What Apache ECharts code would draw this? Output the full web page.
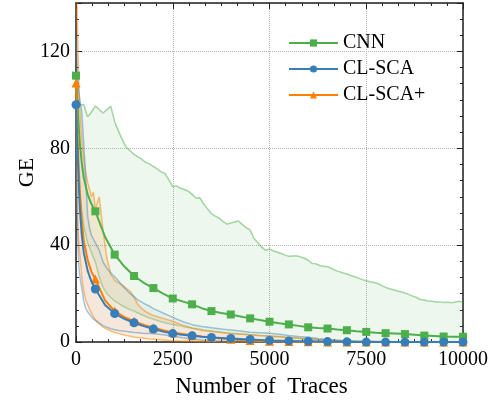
<!DOCTYPE html>
<html>
<head>
<meta charset="utf-8">
<script src="https://cdn.jsdelivr.net/npm/echarts@6/dist/echarts.min.js"></script>
<style>
  html, body { margin: 0; padding: 0; background: #fff; }
  #chart { width: 500px; height: 403px; }
</style>
</head>
<body>
<div id="chart"></div>
<script>
// mean curves, markers every 500 traces
const meanX = [0, 25, 50, 75, 100, 150, 200, 300, 400, 500,
  750, 1000, 1250, 1500, 1750, 2000, 2250, 2500, 2750, 3000,
  3250, 3500, 3750, 4000, 4250, 4500, 4750, 5000, 5250, 5500,
  5750, 6000, 6250, 6500, 6750, 7000, 7250, 7500, 7750, 8000,
  8250, 8500, 8750, 9000, 9250, 9500, 9750, 10000]
const cnnMean = [110, 103, 95, 88, 82, 74, 68, 61, 57, 54,
  43.5, 36.1, 31.2, 27.3, 24.5, 22.3, 20.0, 18.0, 16.8, 15.6,
  14.0, 12.8, 12.0, 11.4, 10.6, 9.8, 9.1, 8.4, 7.8, 7.3,
  6.7, 6.1, 5.8, 5.6, 5.2, 4.9, 4.5, 4.2, 3.9, 3.7,
  3.5, 3.3, 3.0, 2.7, 2.5, 2.3, 2.2, 2.2]
const scaMean = [98, 85, 75, 64, 55, 44, 37, 29.5, 25, 21.9,
  15.3, 11.8, 9.6, 8.0, 6.6, 5.4, 4.4, 3.5, 3.0, 2.6,
  2.2, 1.9, 1.7, 1.5, 1.3, 1.1, 0.9, 0.7, 0.6, 0.5,
  0.4, 0.3, 0.2, 0.2, 0.1, 0.1, 0, 0, 0, 0,
  0, 0, 0, 0, 0, 0, 0, 0]
const plusMean = [107, 92, 80, 70, 62, 50, 42, 34, 29, 26,
  17.2, 12.8, 10.3, 8.6, 7.1, 5.9, 4.9, 4.0, 3.4, 2.8,
  2.3, 1.9, 1.5, 1.2, 0.9, 0.7, 0.5, 0.4, 0.3, 0.2,
  0.1, 0.1, 0, 0, 0, 0, 0, 0, 0, 0,
  0, 0, 0, 0, 0, 0, 0, 0]

// CNN spread
const cnnX = [0, 50, 100, 200, 300, 400, 500, 600, 700, 800, 900, 1000,
  1100, 1200, 1300, 1400, 1500, 1600, 1700, 1800, 1900, 2000,
  2100, 2200, 2300, 2400, 2500, 2600, 2700, 2800, 2900, 3000,
  3100, 3200, 3300, 3400, 3500, 3600, 3700, 3800, 3900, 4000,
  4100, 4200, 4300, 4400, 4500, 4600, 4700, 4800, 4900, 5000,
  5100, 5200, 5300, 5400, 5500, 5600, 5700, 5800, 5900, 6000,
  6100, 6200, 6300, 6400, 6500, 6600, 6700, 6800, 6900, 7000,
  7100, 7200, 7300, 7400, 7500, 7600, 7700, 7800, 7900, 8000,
  8100, 8200, 8300, 8400, 8500, 8600, 8700, 8800, 8900, 9000,
  9100, 9200, 9300, 9400, 9500, 9600, 9700, 9800, 9900, 10000]
const cnnUpper = [108, 100, 98, 98, 93, 95, 97.5, 96, 94.6, 96, 97.3, 91,
  87, 83.5, 80.4, 79, 77.5, 76.5, 75.5, 74.2, 73.6, 72.5,
  71.5, 70.3, 69.6, 67, 64.2, 64.5, 63.5, 63, 62.3, 61,
  59.5, 59.6, 57, 55, 53, 52, 51.2, 49.8, 48.7, 49.2,
  49.6, 50, 48.5, 47.2, 46.3, 42.8, 41, 39.2, 37.9, 38.5,
  37.6, 37.2, 36.6, 35.9, 35.4, 35.5, 35.6, 35.2, 34.6, 33.8,
  32.5, 32.3, 31.6, 31.3, 31.1, 30.4, 29.6, 29.1, 28.5, 28.1,
  27.5, 27.0, 26.4, 25.8, 25.3, 24.9, 24.6, 24.2, 23.3, 22.6,
  22, 21.6, 21.1, 20.8, 20.3, 19.6, 19, 18.4, 17.6, 17.4,
  17, 16.9, 16.6, 16.6, 16.4, 16.5, 16.2, 16.6, 16.9, 16.4]
const cnnLower = [105, 75, 60, 48, 41, 37, 33, 27, 22.5, 20, 18.3, 17,
  16, 15, 14.1, 13.4, 12.8, 12, 11.3, 10.6, 10, 9.4,
  8.9, 8.4, 8, 7.6, 7.3, 7, 6.7, 6.3, 6, 5.7,
  5.5, 5.3, 5, 4.8, 4.6, 4.4, 4.2, 4.0, 3.8, 3.6,
  3.5, 3.3, 3.2, 3.1, 3.0, 2.9, 2.7, 2.6, 2.5, 2.4,
  2.3, 2.2, 2.1, 1.9, 1.8, 1.7, 1.6, 1.5, 1.4, 1.3,
  1.2, 1.1, 1.0, 0.9, 0.9, 0.8, 0.7, 0.6, 0.6, 0.5,
  0.5, 0.4, 0.4, 0.3, 0.3, 0.3, 0.2, 0.2, 0.2, 0.1,
  0.1, 0.1, 0.1, 0.1, 0.1, 0.1, 0, 0, 0, 0,
  0, 0, 0, 0, 0, 0, 0, 0, 0, 0]

// CL-SCA / CL-SCA+ spread
const bandX = [0, 25, 50, 75, 100, 150, 200, 250, 300, 350, 400, 450, 500,
  600, 700, 800, 900, 1000, 1100, 1200, 1300, 1400, 1500, 1600, 1700, 1800, 1900, 2000,
  2250, 2500, 2750, 3000, 3250, 3500, 3750, 4000, 4250, 4500, 4750, 5000,
  5250, 5500, 5750, 6000, 6250, 6500, 6750, 7000, 7250, 7500, 7750, 8000,
  8250, 8500, 8750, 9000, 9250, 9500, 9750, 10000]
const plusUpper = [160, 140, 122, 106, 96, 84, 76, 70, 66, 63, 60, 62, 55,
  60, 46, 34.5, 28, 25.5, 24.4, 23.5, 22.2, 21, 18.5, 15.5, 13.8, 12.6, 11.7, 11,
  9.8, 8.6, 7.0, 5.8, 4.8, 4.4, 4.0, 3.6, 3.3, 3.0, 2.7, 2.5,
  2.3, 2.0, 1.7, 1.4, 1.1, 0.9, 0.7, 0.5, 0.4, 0.3, 0.2, 0.1,
  0, 0, 0, 0, 0, 0, 0, 0]
const plusLower = [95, 62, 46, 40, 36, 27, 21, 17.5, 15.5, 13.5, 12, 10.5, 9.3,
  7.6, 6.2, 5.3, 4.6, 4.0, 3.5, 3.1, 2.7, 2.4, 2.1, 1.9, 1.7, 1.5, 1.3, 1.2,
  0.9, 0.6, 0.4, 0.3, 0.2, 0.1, 0, 0, 0, 0, 0, 0,
  0, 0, 0, 0, 0, 0, 0, 0, 0, 0, 0, 0,
  0, 0, 0, 0, 0, 0, 0, 0]
const scaUpper = [125, 115, 108, 103, 100, 95, 82, 68, 52, 47, 44, 42.5, 41,
  38, 33, 30.4, 28.5, 27, 25.2, 23.3, 21.6, 20, 18.8, 17.4, 16.5, 15.6, 14.8, 13.8,
  12, 10.2, 8.5, 7.2, 6.4, 5.9, 5.4, 5.0, 4.6, 4.1, 3.9, 3.7,
  3.2, 2.7, 2.3, 2.0, 1.5, 1.1, 0.8, 0.5, 0.3, 0.2, 0.1, 0,
  0, 0, 0, 0, 0, 0, 0, 0]
const scaLower = [80, 55, 40, 31, 27, 22, 17, 14, 12.5, 11.5, 10.5, 9.5, 8.8,
  7.8, 6.8, 6.1, 5.5, 5.1, 4.8, 4.6, 4.4, 4.2, 4.0, 3.9, 3.7, 3.6, 3.5, 3.4,
  3.0, 2.4, 1.8, 1.3, 0.9, 0.6, 0.4, 0.2, 0.1, 0, 0, 0,
  0, 0, 0, 0, 0, 0, 0, 0, 0, 0, 0, 0,
  0, 0, 0, 0, 0, 0, 0, 0]

const xTicks = { min: 0, max: 10000, interval: 2500 }
const yTicks = { min: 0, max: 140, interval: 40 }

const font = "'Liberation Serif', 'Times New Roman', serif"
const green = '#4daf4a', blue = '#377eb8', orange = '#ff7f00'

function pairs(xs, ys) {
  return xs.map((x, i) => [x, ys[i]])
}

// 上下界之间的填充 (多边形, 走坐标轴换算)
function bandFill(xs, lower, upper, fill) {
  return {
    type: 'custom', silent: true, z: 1, clip: true,
    data: [[xs[0], lower[0]]],
    renderItem: (params, api) => {
      const pts = xs.map((x, i) => api.coord([x, upper[i]]))
      for (let i = xs.length - 1; i >= 0; i--) pts.push(api.coord([xs[i], lower[i]]))
      const cs = params.coordSys
      return {
        type: 'polygon',
        shape: { points: pts },
        style: { fill: fill },
        clipPath: { type: 'rect', shape: { x: cs.x, y: cs.y, width: cs.width, height: cs.height } }
      }
    }
  }
}

function boundLine(xs, ys, color) {
  return {
    type: 'line', data: pairs(xs, ys), symbol: 'none', silent: true, z: 2,
    lineStyle: { color: color, width: 1.5 }
  }
}

function meanLine(name, ys, color, symbol, size, z) {
  return {
    type: 'line', name: name, data: pairs(meanX, ys), z: z,
    symbol: symbol,
    symbolSize: (v) => v[0] % 500 === 0 ? size : 0,
    showSymbol: true,
    itemStyle: { color: color },
    lineStyle: { color: color, width: 2 }
  }
}

function axisCommon(showLabel) {
  return {
    axisLine: { show: true, onZero: false, lineStyle: { color: '#222', width: 1.5 } },
    axisTick: { show: true, inside: true, length: 6, lineStyle: { color: '#222', width: 1 } },
    minorTick: { show: true, splitNumber: 6, length: 3, lineStyle: { color: '#222', width: 1 } },
    axisLabel: { show: showLabel }
  }
}

const chart = echarts.init(document.getElementById('chart'), null, { renderer: 'canvas' })

chart.setOption({
  animation: false,
  backgroundColor: '#fff',
  grid: { left: 76, right: 37, top: 3, bottom: 55 },
  legend: {
    data: ['CNN', 'CL-SCA', 'CL-SCA+'],
    orient: 'vertical',
    left: 288, top: 33,
    itemWidth: 49, itemHeight: 9, itemGap: 6,
    padding: 0,
    textStyle: { fontFamily: font, fontSize: 20, color: '#000' }
  },
  xAxis: [{
    type: 'value', ...xTicks, position: 'bottom',
    ...axisCommon(true),
    axisLabel: { color: '#000', fontFamily: font, fontSize: 20, margin: 8, formatter: (v) => String(v) },
    splitLine: { show: true, lineStyle: { color: '#b5b5b5', type: 'dotted', width: 1 } },
    name: 'Number of  Traces', nameLocation: 'middle', nameGap: 28,
    nameTextStyle: { fontFamily: font, fontSize: 23, color: '#000', padding: [0, 16, 0, 0] }
  }, {
    type: 'value', ...xTicks, position: 'top',
    ...axisCommon(false),
    splitLine: { show: false }
  }],
  yAxis: [{
    type: 'value', ...yTicks, position: 'left',
    ...axisCommon(true),
    axisLabel: { color: '#000', fontFamily: font, fontSize: 20, margin: 6, showMaxLabel: false },
    splitLine: { show: true, lineStyle: { color: '#b5b5b5', type: 'dotted', width: 1 } },
    name: 'GE', nameLocation: 'middle', nameGap: 38, nameMoveOverlap: false,
    nameTextStyle: { fontFamily: font, fontSize: 22, color: '#000' }
  }, {
    type: 'value', ...yTicks, position: 'right',
    ...axisCommon(false),
    splitLine: { show: false }
  }],
  series: [
    bandFill(cnnX, cnnLower, cnnUpper, 'rgba(77,175,74,0.1)'),
    bandFill(bandX, plusLower, plusUpper, 'rgba(255,127,0,0.13)'),
    bandFill(bandX, scaLower, scaUpper, 'rgba(55,126,184,0.05)'),
    boundLine(cnnX, cnnUpper, 'rgba(77,175,74,0.5)'),
    boundLine(cnnX, cnnLower, 'rgba(77,175,74,0.4)'),
    boundLine(bandX, plusUpper, 'rgba(255,127,0,0.5)'),
    boundLine(bandX, plusLower, 'rgba(255,127,0,0.5)'),
    boundLine(bandX, scaUpper, 'rgba(55,126,184,0.45)'),
    boundLine(bandX, scaLower, 'rgba(55,126,184,0.45)'),
    meanLine('CNN', cnnMean, green, 'rect', 8, 3),
    meanLine('CL-SCA+', plusMean, orange, 'triangle', 9, 4),
    meanLine('CL-SCA', scaMean, blue, 'circle', 9, 5)
  ]
})
</script>
</body>
</html>
